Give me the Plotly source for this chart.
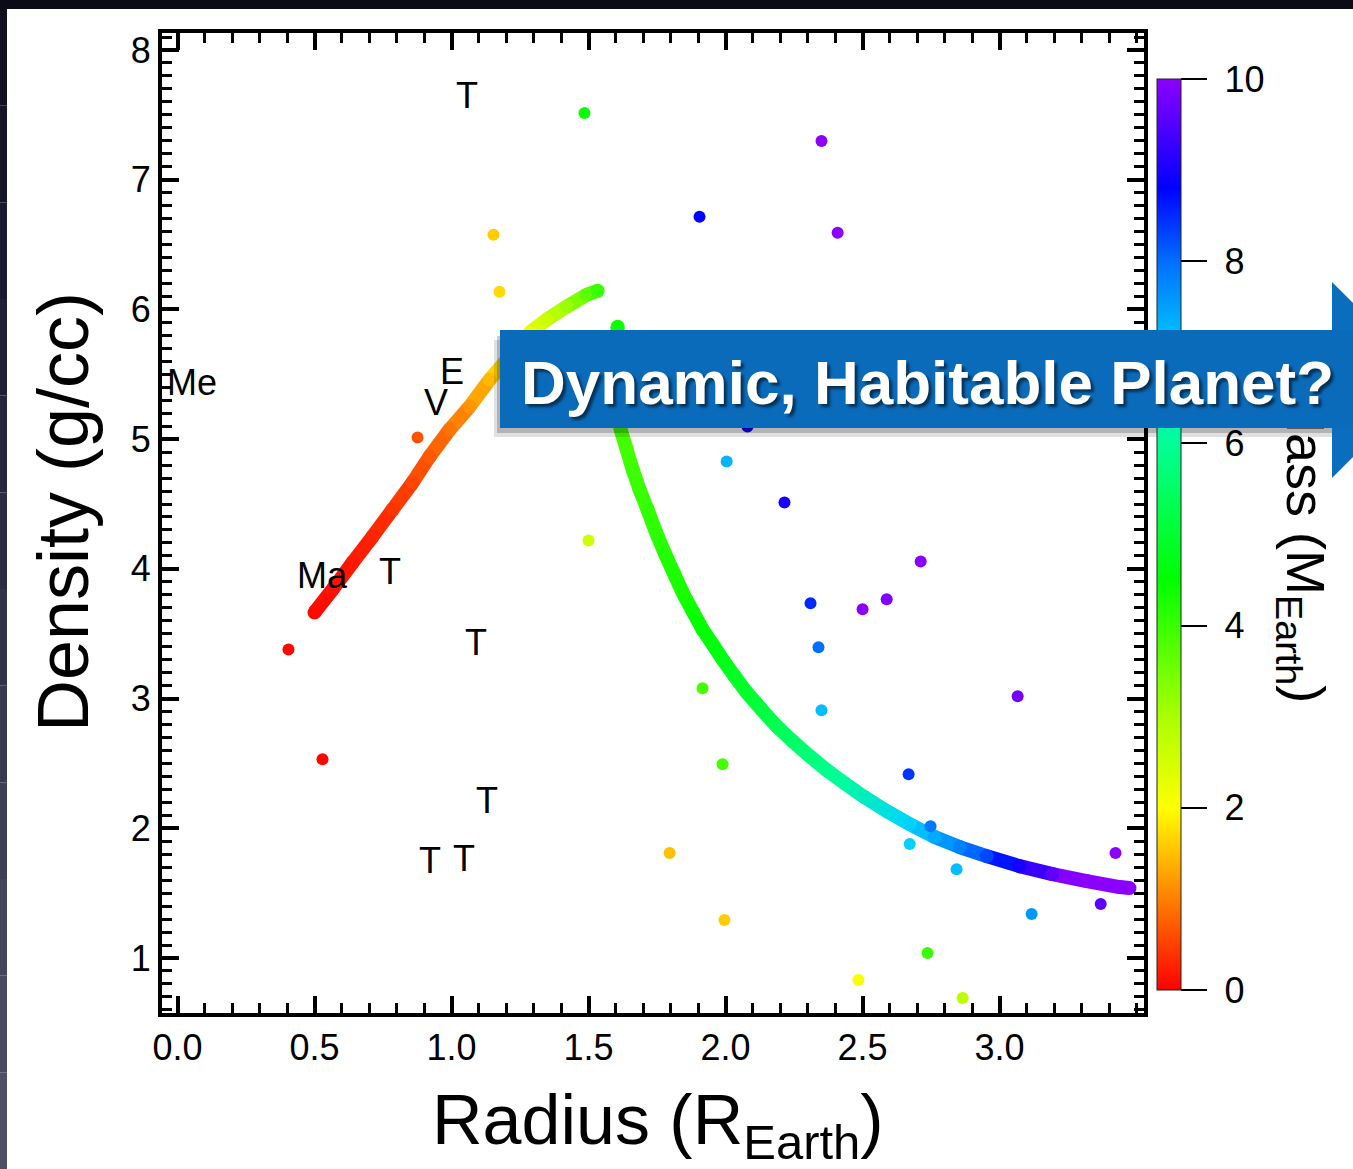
import plotly.graph_objects as go
from plotly.colors import sample_colorscale

# ---------------- data ----------------
# rocky (Earth-like) mass–radius track
rocky_radius = [0.500, 0.566, 0.639, 0.712, 0.785, 0.858, 0.920, 0.993, 1.066,
                1.139, 1.212, 1.285, 1.347, 1.420, 1.493, 1.533]
rocky_density = [3.664, 3.842, 4.049, 4.250, 4.458, 4.666, 4.866, 5.074, 5.251,
                 5.459, 5.636, 5.821, 5.921, 6.021, 6.113, 6.144]
rocky_mass = [0.08, 0.13, 0.19, 0.28, 0.39, 0.54, 0.69, 0.90, 1.15,
              1.46, 1.82, 2.24, 2.63, 3.13, 3.69, 4.02]

# volatile-rich track
volatile_radius = [1.606, 1.602, 1.617, 1.639, 1.661, 1.686, 1.715, 1.745, 1.777,
                   1.810, 1.843, 1.880, 1.916, 1.953, 1.989, 2.033, 2.077, 2.131,
                   2.186, 2.245, 2.307, 2.369, 2.434, 2.507, 2.588, 2.672, 2.763,
                   2.854, 2.953, 3.073, 3.193, 3.318, 3.438, 3.474]
volatile_density = [5.867, 5.459, 5.074, 4.920, 4.766, 4.612, 4.458, 4.288, 4.126,
                    3.972, 3.818, 3.672, 3.533, 3.418, 3.302, 3.172, 3.048, 2.917,
                    2.787, 2.671, 2.556, 2.448, 2.348, 2.240, 2.132, 2.032, 1.932,
                    1.855, 1.785, 1.708, 1.647, 1.593, 1.547, 1.539]
volatile_mass = [4.4, 4.1, 3.9, 3.9, 3.95, 4.0, 4.05, 4.1, 4.2, 4.25,
                 4.3, 4.4, 4.5, 4.6, 4.7, 4.85, 4.95, 5.1, 5.3, 5.5,
                 5.7, 5.9, 6.1, 6.4, 6.7, 7.0, 7.4, 7.8, 8.3, 9.0,
                 9.6, 10.3, 10.9, 11.2]

# individual planets
planet_radius = [1.485, 2.350, 1.905, 2.409, 1.153, 1.175, 2.080, 2.004, 2.215,
                 1.500, 2.712, 2.310, 2.500, 2.588, 2.339, 0.405, 3.066, 1.916,
                 2.350, 0.529, 1.989, 2.668, 2.748, 2.672, 2.843, 1.796, 3.423,
                 3.369, 3.117, 1.996, 2.737, 2.485, 2.865, 0.876]
planet_density = [7.515, 7.299, 6.714, 6.591, 6.575, 6.136, 5.097, 4.827, 4.511,
                  4.219, 4.057, 3.734, 3.688, 3.765, 3.395, 3.379, 3.018, 3.079,
                  2.910, 2.532, 2.494, 2.417, 2.016, 1.878, 1.685, 1.809, 1.809,
                  1.416, 1.339, 1.293, 1.039, 0.831, 0.692, 5.012]
planet_mass = [4.4, 10.0, 8.8, 10.0, 1.6, 1.7, 9.0, 7.3, 9.0,
               2.6, 10.0, 8.5, 10.0, 9.9, 8.0, 0.05, 9.8, 3.9,
               7.2, 0.05, 3.9, 8.4, 7.9, 7.0, 7.2, 1.5, 10.0,
               9.6, 7.6, 1.6, 4.0, 2.1, 2.8, 0.65]

# solar-system body labels
label_text = ["T", "Me", "E", "V", "Ma", "T", "T", "T", "T", "T"]
label_radius = [1.055, 0.053, 1.000, 0.945, 0.529, 0.774, 1.091, 1.128, 0.920, 1.047]
label_density = [7.653, 5.436, 5.520, 5.281, 3.949, 3.980, 3.433, 2.217, 1.755, 1.770]

x_ticks = [0.0, 0.5, 1.0, 1.5, 2.0, 2.5, 3.0]
y_ticks = [1, 2, 3, 4, 5, 6, 7, 8]
mass_ticks = [0, 2, 4, 6, 8, 10]

# ---------------- styling ----------------
W, H = 1353, 1169
L, R, T, B = 162, 1144, 33, 1013          # plot-area pixel box
FONT = "Liberation Sans, Arial, Helvetica, sans-serif"
CMIN, CMAX = 0, 10
colorscale = [
    [0.00, "rgb(255,0,0)"],
    [0.10, "rgb(255,128,0)"],
    [0.20, "rgb(255,255,0)"],
    [0.30, "rgb(170,255,0)"],
    [0.45, "rgb(0,255,0)"],
    [0.60, "rgb(0,255,150)"],
    [0.70, "rgb(0,210,255)"],
    [0.80, "rgb(0,110,255)"],
    [0.88, "rgb(0,0,255)"],
    [1.00, "rgb(140,0,255)"],
]


def px_x(p):
    return (p - L) / (R - L)


def px_y(p):
    return (B - p) / (B - T)


def mass_color(m):
    v = min(max((m - CMIN) / (CMAX - CMIN), 0.0), 1.0)
    return sample_colorscale(colorscale, [v])[0]


fig = go.Figure()

# thick coloured tracks: segments between read points + round markers on them
for rad, den, mas in [(rocky_radius, rocky_density, rocky_mass),
                      (volatile_radius, volatile_density, volatile_mass)]:
    for i in range(len(rad) - 1):
        fig.add_trace(go.Scatter(
            x=[rad[i], rad[i + 1]], y=[den[i], den[i + 1]], mode="lines",
            line=dict(color=mass_color((mas[i] + mas[i + 1]) / 2), width=14),
            hoverinfo="skip", showlegend=False))
    fig.add_trace(go.Scatter(
        x=rad, y=den, mode="markers",
        marker=dict(size=14, color=mas, coloraxis="coloraxis", line=dict(width=0)),
        showlegend=False))

# individual planets
fig.add_trace(go.Scatter(
    x=planet_radius, y=planet_density, mode="markers",
    marker=dict(size=12, color=planet_mass, coloraxis="coloraxis", line=dict(width=0)),
    showlegend=False))

annotations = []
for t, xr, yd in zip(label_text, label_radius, label_density):
    annotations.append(dict(x=xr, y=yd, xref="x", yref="y", text=t, showarrow=False,
                            font=dict(family=FONT, size=36, color="black"),
                            xanchor="center", yanchor="middle"))

# axis titles
annotations.append(dict(x=px_x(63), y=px_y(512), xref="paper", yref="paper",
                        text="Density (g/cc)", textangle=-90, showarrow=False,
                        font=dict(family=FONT, size=72, color="black"),
                        xanchor="center", yanchor="middle"))
annotations.append(dict(x=px_x(658), y=px_y(1125), xref="paper", yref="paper",
                        text="Radius (R<sub>Earth</sub>)", showarrow=False,
                        font=dict(family=FONT, size=70, color="black"),
                        xanchor="center", yanchor="middle"))
# colour-bar title (must be before the banner so the banner covers it)
annotations.append(dict(x=px_x(1302), y=px_y(545), xref="paper", yref="paper",
                        text="Mass (M<sub>Earth</sub>)", textangle=90, showarrow=False,
                        font=dict(family=FONT, size=54, color="black"),
                        xanchor="center", yanchor="middle"))
# banner box
annotations.append(dict(x=px_x(500), y=px_y(379), xref="paper", yref="paper",
                        text=" ", showarrow=False, width=900, height=98,
                        bgcolor="#0b6bbb", borderpad=0, borderwidth=0,
                        xanchor="left", yanchor="middle"))
# banner text
annotations.append(dict(x=px_x(519), y=px_y(382), xref="paper", yref="paper",
                        text="<b>Dynamic, Habitable Planet?</b>", showarrow=False,
                        font=dict(family=FONT, size=62, color="white",
                                  shadow="3px 3px 3px rgba(0,0,0,0.55)"),
                        xanchor="left", yanchor="middle"))

shapes = []
# drop shadow of the banner
for dx, dy, a in [(-6, 9, 0.12), (-3, 5, 0.2)]:
    shapes.append(dict(type="rect", xref="paper", yref="paper", layer="above",
                       x0=px_x(500 + dx), x1=px_x(1400), y0=px_y(331 + dy), y1=px_y(428 + dy),
                       fillcolor=f"rgba(0,0,0,{a})", line=dict(width=0)))
# arrow head
shapes.append(dict(type="path", xref="paper", yref="paper", layer="above",
                   path=f"M {px_x(1332)},{px_y(282)} L {px_x(1430)},{px_y(380)} "
                        f"L {px_x(1332)},{px_y(478)} Z",
                   fillcolor="#0b6dbd", line=dict(width=0)))
# dark frame strips of the slide
shapes.append(dict(type="rect", xref="paper", yref="paper", layer="below",
                   x0=px_x(0), x1=px_x(W), y0=px_y(9), y1=px_y(0),
                   fillcolor="#0b0b18", line=dict(width=0)))
strip_cols = ["#10101f", "#151527", "#1a1a2e", "#202035", "#26263c", "#2c2c42",
              "#323249", "#38384f", "#3e3e56", "#44445c", "#4a4a63", "#4e4e67"]
seg = (H - 9) / len(strip_cols)
for k, c in enumerate(strip_cols):
    shapes.append(dict(type="rect", xref="paper", yref="paper", layer="below",
                       x0=px_x(0), x1=px_x(7), y0=px_y(9 + (k + 1) * seg), y1=px_y(9 + k * seg),
                       fillcolor=c, line=dict(width=0)))

axis_common = dict(showline=True, linewidth=4, linecolor="black", mirror="ticks",
                   ticks="inside", ticklen=17, tickwidth=3.5, tickcolor="black",
                   showgrid=False, zeroline=False,
                   tickfont=dict(family=FONT, size=36, color="black"))

fig.update_layout(
    width=W, height=H,
    margin=dict(l=L, r=W - R, t=T, b=H - B),
    paper_bgcolor="white", plot_bgcolor="white",
    font=dict(family=FONT, color="black"),
    showlegend=False,
    xaxis=dict(range=[-0.0566, 3.527], tickvals=x_ticks,
               ticktext=[f"{v:.1f}" for v in x_ticks],
               minor=dict(dtick=0.1, tick0=0, ticks="inside", ticklen=10,
                          tickwidth=3, tickcolor="black"),
               **axis_common),
    yaxis=dict(range=[0.576, 8.131], tickvals=y_ticks,
               minor=dict(dtick=0.1, tick0=0, ticks="inside", ticklen=10,
                          tickwidth=3, tickcolor="black"),
               **axis_common),
    coloraxis=dict(
        cmin=CMIN, cmax=CMAX, colorscale=colorscale,
        colorbar=dict(x=px_x(1157), xanchor="left", y=px_y(534.5), yanchor="middle",
                      thickness=24, len=911, lenmode="pixels", xpad=0, ypad=0,
                      tickvals=mass_ticks, ticktext=["\u2009\u200a" + str(v) for v in mass_ticks],
                      ticks="outside", ticklen=26, tickwidth=1.5,
                      tickcolor="black", outlinewidth=1, outlinecolor="#222",
                      tickfont=dict(family=FONT, size=36, color="black")),
    ),
    annotations=annotations,
    shapes=shapes,
)

fig.write_html("out.html")
